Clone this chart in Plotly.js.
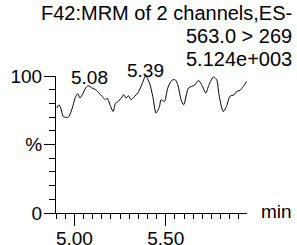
<!DOCTYPE html>
<html>
<head>
<meta charset="utf-8">
<script src="https://cdn.plot.ly/plotly-3.0.1.min.js"></script>
<style>html,body{margin:0;padding:0;background:#fff;}#chart{width:297px;height:245px;}</style>
</head>
<body>
<div id="chart"></div>
<script>
// Retention time (min) and relative intensity (%)
const timeMin = [4.904,4.915,4.925,4.939,4.961,4.970,4.988,5.007,5.019,5.030,5.043,5.061,5.075,5.097,5.116,5.134,5.152,5.170,5.179,5.198,5.212,5.225,5.238,5.256,5.270,5.283,5.296,5.310,5.329,5.347,5.369,5.389,5.411,5.429,5.447,5.466,5.474,5.493,5.511,5.533,5.551,5.566,5.584,5.598,5.624,5.642,5.660,5.679,5.697,5.719,5.737,5.761,5.779,5.793,5.815,5.833,5.851,5.875,5.888,5.906,5.925,5.943];
const intensity = [76.6,79.0,76.6,70.4,69.7,70.4,76.6,85.1,87.1,83.9,86.3,91.2,92.9,91.2,90.0,87.6,85.1,82.7,83.9,77.8,74.1,80.2,81.2,83.9,86.3,83.9,85.6,82.7,85.1,87.6,93.6,100,94.9,85.1,72.9,77.8,82.7,81.4,91.2,96.8,97.3,93.6,82.7,79.0,91.2,92.4,93.6,96.8,93.6,87.6,93.6,99.3,97.3,85.1,74.1,77.8,85.1,86.3,88.7,89.5,92.4,96.0];
const peakTimes = [5.08, 5.39];
const peakLabels = ["5.08", "5.39"];
const titleLines = ["F42:MRM of 2 channels,ES-", "563.0 > 269", "5.124e+003"];
const xTickVals = [5.00, 5.25, 5.50, 5.75];
const xTickText = ["5.00", "", "5.50", ""];
const yTickVals = [0, 50, 100];
const yTickText = ["0", "%", "100"];
const xUnit = "min";

const FONT = {family: "Liberation Sans, Arial, sans-serif", size: 19, color: "#000"};
const TFONT = Object.assign({}, FONT, {size: 20});
const L = 56, R = 247.5, T = 76, B = 213;
const X0 = 4.899, X1 = 5.945;
const pw = R - L, ph = B - T;
const px2paperX = p => (p - L) / pw;
const px2paperY = p => (B - p) / ph;

const xMinor = [];
for (let k = 0; k <= 21; k++) xMinor.push(+(4.90 + k * 0.05).toFixed(2));

const annotations = [];
const titleY = [13, 36, 59];
titleLines.forEach((t, i) => annotations.push({
  text: t, xref: "paper", yref: "paper", x: px2paperX(295), y: px2paperY(titleY[i]),
  xanchor: "right", yanchor: "middle", showarrow: false, font: TFONT
}));
const peakY = [77, 70];
peakTimes.forEach((t, i) => annotations.push({
  text: peakLabels[i], xref: "x", yref: "paper", x: t, y: px2paperY(peakY[i]),
  xanchor: "center", yanchor: "middle", showarrow: false, font: FONT
}));
annotations.push({
  text: xUnit, xref: "paper", yref: "paper", x: px2paperX(260), y: px2paperY(211),
  xanchor: "left", yanchor: "middle", showarrow: false, font: FONT
});

Plotly.newPlot("chart", [{
  x: timeMin, y: intensity, type: "scatter", mode: "lines",
  line: {color: "#000", width: 1, shape: "spline", smoothing: 0.7},
  hoverinfo: "skip"
}, {
  // invisible copy so the minor-tick overlay axis gets drawn
  x: timeMin, y: intensity, yaxis: "y2", type: "scatter", mode: "lines",
  line: {color: "rgba(0,0,0,0)", width: 0}, opacity: 0, hoverinfo: "skip"
}], {
  width: 297, height: 245,
  margin: {l: L, r: 297 - R, t: T, b: 245 - B, pad: 0},
  paper_bgcolor: "#fff", plot_bgcolor: "#fff",
  showlegend: false,
  font: FONT,
  xaxis: {
    range: [X0, X1], showgrid: false, zeroline: false,
    showline: true, linecolor: "#000", linewidth: 1,
    tickmode: "array", tickvals: xTickVals, ticktext: xTickText, tickfont: FONT,
    ticks: "outside", ticklen: 12, tickwidth: 1, tickcolor: "#000",
    ticklabelstandoff: -4,
    minor: {tickmode: "array", tickvals: xMinor, ticks: "outside", ticklen: 5, tickwidth: 1, tickcolor: "#000", showgrid: false}
  },
  yaxis: {
    range: [0, 100], showgrid: false, zeroline: false,
    showline: true, linecolor: "#000", linewidth: 1,
    tickmode: "array", tickvals: yTickVals, ticktext: yTickText, tickfont: FONT,
    ticks: "outside", ticklen: 11, tickwidth: 1, tickcolor: "#000",
    ticklabelstandoff: -2
  },
  yaxis2: {
    overlaying: "y", side: "left", anchor: "x", range: [0, 100],
    tickmode: "linear", tick0: 0, dtick: 10,
    ticks: "outside", ticklen: 6, tickwidth: 1, tickcolor: "#000",
    showticklabels: false, showgrid: false, zeroline: false, showline: false
  },
  annotations: annotations
}, {staticPlot: true, displayModeBar: false});
</script>
</body>
</html>
